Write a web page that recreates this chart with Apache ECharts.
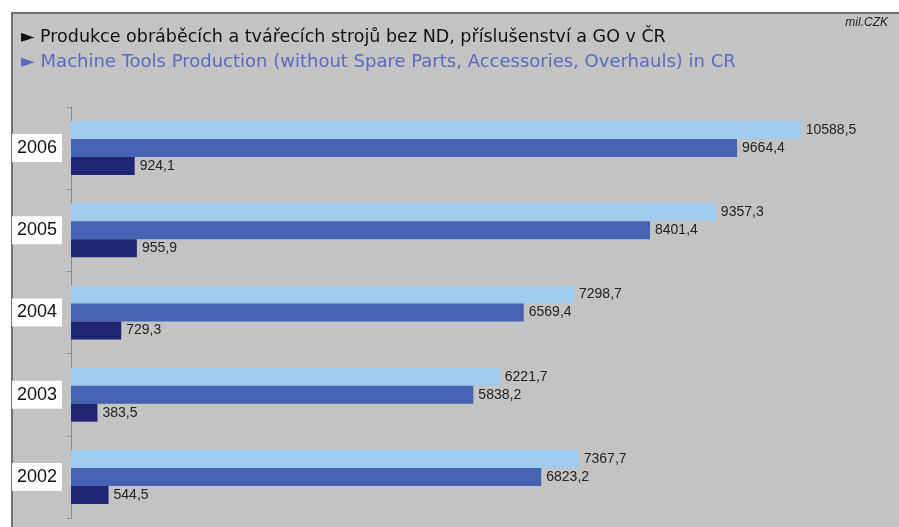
<!DOCTYPE html>
<html>
<head>
<meta charset="utf-8">
<script src="https://cdn.jsdelivr.net/npm/echarts@6/dist/echarts.min.js"></script>
<style>
  html, body { margin: 0; padding: 0; background: #fff; }
  #main { width: 899px; height: 527px; }
</style>
</head>
<body>
<div id="main"></div>
<script>
// roky (zdola nahoru)
var years = ['2002', '2003', '2004', '2005', '2006'];
// celkem, stroje, GO ... hodnoty v mil. CZK
var totalVals = [7367.7, 6221.7, 7298.7, 9357.3, 10588.5];
var toolsVals = [6823.2, 5838.2, 6569.4, 8401.4, 9664.4];
var otherVals = [544.5, 383.5, 729.3, 955.9, 924.1];

var titleCz = '\u25BA Produkce obráběcích a tvářecích strojů bez ND, příslušenství a GO v ČR';
var titleEn = '\u25BA Machine Tools Production (without Spare Parts, Accessories, Overhauls) in CR';

function fmt(p) {
    return p.value.toFixed(1).replace('.', ',');
}

var myChart = echarts.init(document.getElementById('main'));
var labelCfg = {
    show: true,
    position: 'right',
    distance: 5,
    fontSize: 14,
    color: '#222',
    fontFamily: 'Liberation Sans, Arial, sans-serif',
    formatter: fmt
};
var option = {
    backgroundColor: '#fff',
    animation: false,
    graphic: [{
        type: 'rect',
        left: 11,
        top: 12,
        z: -10,
        shape: { width: 900, height: 530 },
        style: { fill: '#c3c3c3', stroke: '#707070', lineWidth: 2 }
    }],
    title: [{
        text: titleCz,
        left: 16,
        top: 23,
        textStyle: { fontSize: 17.5, fontWeight: 'normal', color: '#111', fontFamily: 'DejaVu Sans, sans-serif' }
    }, {
        text: titleEn,
        left: 16,
        top: 48,
        textStyle: { fontSize: 18, fontWeight: 'normal', color: '#5a6cc0', fontFamily: 'DejaVu Sans, sans-serif' }
    }, {
        text: 'mil.CZK',
        right: 6,
        top: 12,
        textStyle: { fontSize: 12, fontStyle: 'italic', fontWeight: 'normal', color: '#222', fontFamily: 'Liberation Sans, Arial, sans-serif' }
    }],
    grid: {
        left: 71,
        right: 1,
        top: 107,
        bottom: 9
    },
    xAxis: {
        type: 'value',
        min: 0,
        max: 12000,
        show: false
    },
    yAxis: {
        type: 'category',
        data: years,
        axisLine: { lineStyle: { color: '#8a8a8a', width: 1 } },
        axisTick: { show: true, length: 4, lineStyle: { color: '#8a8a8a' } },
        axisLabel: {
            margin: 9,
            fontSize: 18,
            color: '#111',
            fontFamily: 'Liberation Sans, Arial, sans-serif',
            backgroundColor: '#fff',
            padding: [6, 5, 4, 5]
        }
    },
    series: [{
        name: 'Celkem',
        type: 'bar',
        data: totalVals,
        barWidth: 18,
        barGap: '0%',
        itemStyle: { color: '#9ecbee' },
        label: labelCfg
    }, {
        name: 'Stroje',
        type: 'bar',
        data: toolsVals,
        barWidth: 18,
        barGap: '0%',
        itemStyle: { color: '#4663b3' },
        label: labelCfg
    }, {
        name: 'GO',
        type: 'bar',
        data: otherVals,
        barWidth: 18,
        barGap: '0%',
        itemStyle: { color: '#1f2473' },
        label: labelCfg
    }]
};
myChart.setOption(option);
</script>
</body>
</html>
